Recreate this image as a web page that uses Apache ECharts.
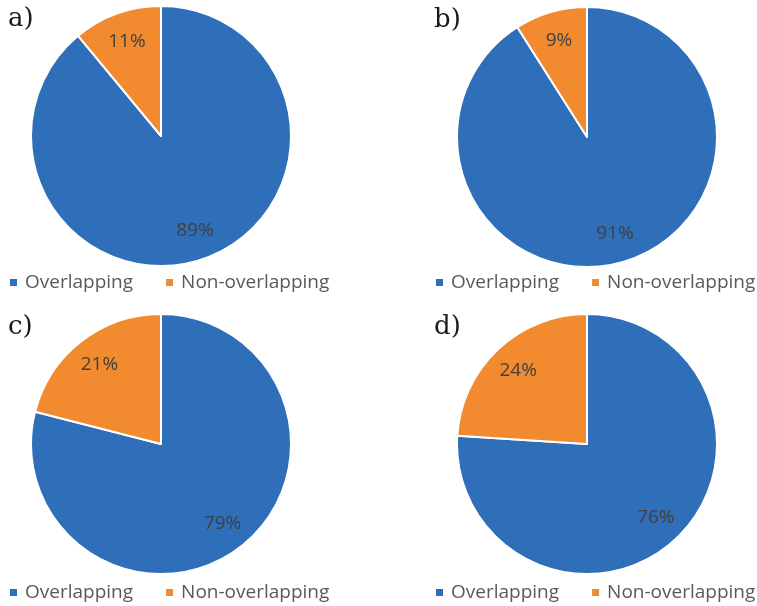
<!DOCTYPE html>
<html>
<head>
<meta charset="utf-8">
<script src="https://cdn.jsdelivr.net/npm/echarts@6/dist/echarts.min.js"></script>
<style>
html,body{margin:0;padding:0;background:#fff;}
#chart{width:757px;height:606px;}
</style>
</head>
<body>
<div id="chart"></div>
<script>
const categories = ['Overlapping', 'Non-overlapping'];
const panelLabels = ['a)', 'b)', 'c)', 'd)'];
const overlapping = [89, 91, 79, 76];
const nonOverlapping = [11, 9, 21, 24];

const colors = ['#2F6EB8', '#F28B30'];
const centers = [[161, 136], [587, 137], [161, 444], [587, 444]];
const R = 130;
const legendTops = [273, 273, 583, 583];
const legendLefts = [8, 434, 8, 434];

const chart = echarts.init(document.getElementById('chart'), null, {renderer: 'canvas'});

const series = [];
const legends = [];
const graphics = [];
for (let i = 0; i < 4; i++) {
  const data = [
    {name: categories[0], value: overlapping[i]},
    {name: categories[1], value: nonOverlapping[i]}
  ];
  series.push({
    type: 'pie',
    center: centers[i],
    radius: [0, R],
    startAngle: 90,
    clockwise: true,
    silent: true,
    label: {show: false},
    labelLine: {show: false},
    itemStyle: {borderColor: '#fff', borderWidth: 2},
    data: data
  });
  series.push({
    type: 'pie',
    center: centers[i],
    radius: [R / 2, R],
    startAngle: 90,
    clockwise: true,
    silent: true,
    legendHoverLink: false,
    itemStyle: {color: 'rgba(0,0,0,0)', borderWidth: 0},
    label: {
      show: true,
      position: 'inside',
      formatter: '{c}%',
      color: '#404040',
      fontSize: 19,
      fontFamily: 'Open Sans'
    },
    labelLine: {show: false},
    data: data.map(d => ({name: d.name, value: d.value}))
  });
  legends.push({
    left: legendLefts[i],
    top: legendTops[i],
    width: 340,
    padding: 0,
    orient: 'horizontal',
    icon: 'rect',
    itemWidth: 9,
    itemHeight: 9,
    itemGap: 31,
    selectedMode: false,
    data: categories,
    textStyle: {color: '#595959', fontSize: 19, fontFamily: 'Open Sans', padding: [0, 0, 0, 2]}
  });
  graphics.push({
    type: 'text',
    left: legendLefts[i],
    top: centers[i][1] - 130,
    style: {
      text: panelLabels[i],
      font: '26px "DejaVu Serif"',
      fill: '#1a1a1a'
    }
  });
}

chart.setOption({
  animation: false,
  color: colors,
  legend: legends,
  series: series,
  graphic: graphics
});
</script>
</body>
</html>
